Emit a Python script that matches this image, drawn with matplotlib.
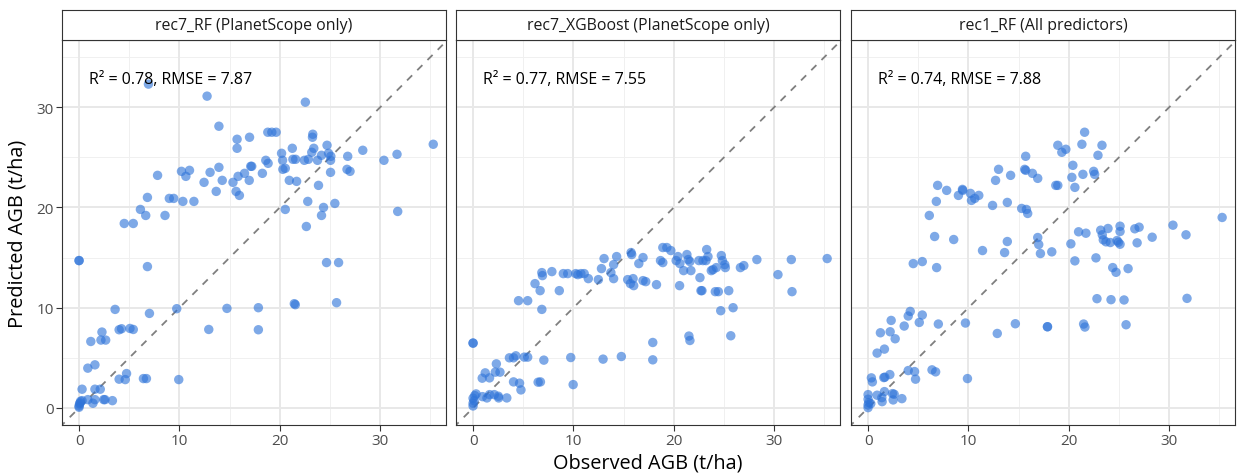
import matplotlib
matplotlib.use("Agg")
import matplotlib.pyplot as plt
import numpy as np

plt.rcParams['font.family'] = ['Open Sans', 'DejaVu Sans']

# panel titles and fit stats
titles = ["rec7_RF (PlanetScope only)", "rec7_XGBoost (PlanetScope only)", "rec1_RF (All predictors)"]
stats = ["R\u00b2 = 0.78, RMSE = 7.87", "R\u00b2 = 0.77, RMSE = 7.55", "R\u00b2 = 0.74, RMSE = 7.88"]

# rec7_RF: observed / predicted
obs_rf7 = [6.91, 12.75, 13.93, 15.74, 16.98, 15.74, 17.1, 7.82, 10.2, 11.0, 10.64, 13.05, 13.93, 12.45, 14.26,
           15.33, 15.84, 16.48, 16.95, 13.66, 15.64, 15.97, 6.81, 8.99, 9.43, 10.34, 11.44, 6.11, 6.64, 8.56,
           4.5, 5.4, 0.0, 0.0, 6.81, 3.59, 7.01, 9.73, 14.73, 12.92, 2.28, 1.17, 2.18, 2.65, 3.99, 4.23, 5.07,
           5.4, 0.87, 1.58, 3.99, 4.6, 4.73, 6.41, 6.71, 9.93, 0.3, 1.58, 2.11, 0.87, 1.38, 1.58, 2.45, 2.58,
           3.32, 0.0, 0.05, 0.15, 0.3, 0.0, 0.1,
           22.54, 18.8, 19.2, 19.63, 23.28, 23.25, 21.24, 23.38, 23.18, 24.7, 20.17, 20.27, 21.3, 21.57, 22.44,
           22.84, 23.75, 24.15, 24.85, 25.08, 25.05, 26.76, 28.26, 30.37, 31.67, 35.28, 18.6, 18.83, 17.2,
           18.26, 20.3, 20.54, 20.94, 21.67, 23.85, 25.05, 26.69, 26.99, 22.78, 20.54, 24.35, 24.15, 25.48,
           22.64, 31.74, 24.65, 25.85, 17.86, 17.86, 21.44, 21.54, 25.65]
pred_rf7 = [32.3, 31.1, 28.1, 26.8, 27.0, 25.9, 24.1, 23.2, 23.6, 23.7, 23.1, 23.5, 24.0, 22.5, 22.7,
            22.5, 23.1, 23.4, 22.7, 21.6, 21.6, 21.2, 21.0, 20.9, 20.9, 20.6, 20.6, 19.8, 19.2, 19.2,
            18.4, 18.4, 14.7, 14.7, 14.1, 9.83, 9.43, 9.9, 9.93, 7.83, 7.57, 6.63, 6.77, 6.77, 7.8, 7.9, 7.93,
            7.83, 3.97, 4.3, 2.87, 2.83, 3.43, 2.93, 2.93, 2.83, 1.87, 1.87, 1.87, 0.83, 0.47, 0.83, 0.83, 0.83,
            0.73, 0.07, 0.4, 0.67, 0.73, 0.2, 0.5,
            30.5, 27.5, 27.5, 27.5, 27.3, 27.0, 25.9, 25.9, 25.5, 26.2, 25.4, 24.7, 24.8, 24.8, 24.7,
            24.8, 24.7, 25.2, 25.4, 25.1, 24.7, 25.1, 25.7, 24.7, 25.3, 26.3, 24.7, 24.4, 24.1,
            23.4, 23.8, 23.9, 22.7, 22.6, 22.2, 23.5, 23.8, 23.6, 20.6, 19.8, 20.0, 19.2, 20.4,
            18.1, 19.6, 14.5, 14.5, 10.0, 7.8, 10.4, 10.3, 10.5]

# rec7_XGBoost: observed / predicted
obs_xgb7 = [6.85, 6.91, 7.85, 8.99, 9.43, 10.23, 10.44, 10.74, 11.07, 11.48, 12.48, 12.79, 13.05, 14.3, 14.0,
            13.73, 14.0, 15.74, 15.8, 16.51, 16.93, 15.4, 15.94, 15.67, 16.0, 6.17, 6.68, 8.59, 4.53, 5.44,
            6.85, 0.0, 0.0, 3.62, 4.03, 4.26, 5.1, 5.44, 7.05, 9.73, 12.95, 14.77, 2.32, 1.21, 2.21, 2.68,
            0.91, 1.64, 4.03, 4.63, 4.77, 6.48, 6.71, 9.97, 0.3, 0.94, 1.38, 1.64, 2.11, 2.52, 2.55, 3.36,
            0.0, 0.1, 0.0, 0.17, 0.0,
            18.9, 19.3, 19.7, 18.67, 18.9, 16.93, 17.2, 18.27, 20.4, 20.23, 20.6, 21.3, 21.43, 21.6, 20.97,
            21.7, 20.57, 22.5, 22.9, 23.27, 23.2, 23.4, 22.6, 23.73, 23.9, 24.23, 22.7, 22.8, 24.13, 24.43,
            25.47, 24.73, 24.83, 25.07, 25.13, 26.63, 26.97, 28.27, 30.37, 31.7, 31.77, 35.27, 24.67, 25.9,
            17.9, 17.9, 21.5, 21.6, 25.67]
pred_xgb7 = [13.5, 13.2, 13.6, 13.4, 13.4, 13.4, 13.3, 13.4, 13.4, 12.9, 12.8, 13.9, 14.9, 15.1, 14.3,
             13.5, 12.9, 15.5, 15.3, 14.4, 15.0, 12.8, 12.9, 12.4, 12.2, 12.4, 11.7, 11.7, 10.7, 10.7,
             9.83, 6.47, 6.47, 5.0, 5.0, 5.2, 5.07, 5.07, 4.77, 5.03, 4.87, 5.13, 4.4, 3.5, 3.57, 3.57,
             2.97, 3.0, 2.6, 2.47, 1.8, 2.57, 2.6, 2.33, 1.4, 1.13, 1.0, 1.33, 1.33, 1.17, 1.0, 1.0,
             0.97, 0.73, 0.47, 1.23, 0.2,
             16.0, 16.0, 15.7, 14.7, 14.5, 12.7, 12.6, 12.3, 15.1, 14.7, 14.4, 15.3, 14.8, 14.6, 13.7,
             13.7, 12.2, 14.7, 14.7, 15.8, 14.7, 15.1, 13.0, 13.7, 13.8, 14.0, 11.7, 11.7, 11.6, 11.6,
             11.7, 15.2, 14.7, 14.3, 14.0, 14.0, 14.2, 14.8, 13.3, 14.8, 11.6, 14.9, 9.7, 10.0,
             6.53, 4.8, 7.17, 6.73, 7.2]

# rec1_RF: observed / predicted
obs_rf1 = [15.7, 13.0, 15.6, 15.7, 16.37, 16.9, 14.2, 12.7, 6.93, 7.83, 9.0, 9.4, 9.43, 10.2, 10.3, 10.63,
           11.03, 6.8, 12.4, 13.87, 15.3, 15.77, 15.9, 6.1, 6.63, 8.53, 11.4, 13.87, 13.6, 16.9, 17.0, 17.17,
           4.5, 5.4, 6.83, 4.2, 4.0, 5.4, 5.1, 2.3, 3.6, 7.0, 9.7, 14.67, 12.87, 1.23, 2.2, 2.7, 0.9, 1.63,
           4.0, 4.63, 4.73, 6.37, 6.73, 9.9, 0.33, 0.43, 1.57, 1.67, 2.17, 0.9, 1.63, 2.43, 2.6, 3.37, 2.5,
           1.4, 1.37, 0.0, 0.0, 0.07, 0.27, 0.0, 0.0,
           21.57, 18.9, 19.3, 19.7, 21.3, 23.3, 22.9, 20.4, 20.3, 21.4, 22.47, 22.57, 18.7, 18.9, 20.6,
           35.27, 30.37, 31.67, 28.3, 26.57, 27.0, 26.8, 25.1, 25.1, 23.9, 23.17, 23.33, 23.43, 23.7, 24.13,
           24.8, 24.93, 25.1, 20.97, 21.7, 20.2, 18.3, 20.6, 22.7, 24.37, 24.7, 25.9, 22.8, 24.2, 25.5,
           31.77, 17.87, 17.87, 21.47, 21.6, 25.7]
pred_rf1 = [25.1, 23.8, 23.8, 23.7, 23.4, 22.9, 23.2, 22.7, 22.2, 21.7, 21.2, 21.8, 21.7, 21.4, 20.7, 20.9,
            21.2, 20.6, 20.2, 20.5, 19.9, 19.8, 19.4, 19.2, 17.1, 16.8, 15.7, 16.6, 15.5, 17.0, 16.3, 15.4,
            14.4, 14.6, 14.0, 9.63, 9.17, 9.27, 8.53, 8.73, 8.17, 8.37, 8.47, 8.4, 7.43, 7.5, 7.6, 6.9, 5.47, 5.87,
            3.73, 3.63, 2.87, 3.8, 3.6, 2.93, 3.0, 2.6, 3.03, 3.07, 3.33, 1.27, 1.63, 1.43, 1.37, 0.93, 0.8,
            0.63, 1.03, 1.33, 0.87, 0.53, 0.43, 0.03, 0.3,
            27.5, 26.2, 25.5, 25.8, 26.3, 26.2, 25.2, 24.2, 23.0, 23.3, 23.6, 23.3, 22.2, 22.2, 22.0,
            19.0, 18.23, 17.27, 17.03, 17.87, 18.03, 16.47, 18.13, 17.6, 17.9, 17.73, 17.27, 16.77, 16.57, 16.5,
            16.7, 16.53, 16.33, 17.57, 17.43, 16.37, 15.57, 14.67, 14.97, 14.0, 13.53, 13.9, 10.9, 10.8, 10.77,
            10.93, 8.1, 8.1, 8.37, 8.07, 8.3]

panels = [(obs_rf7, pred_rf7), (obs_xgb7, pred_xgb7), (obs_rf1, pred_rf1)]

W, H = 1239, 477
fig = plt.figure(figsize=(W / 100, H / 100), dpi=100)

lefts = [62, 456, 851]
pw = 384
top_strip, strip_bottom, panel_bottom = 11, 41, 426

xlim = (-1.7, 36.55)
ylim = (-1.7, 36.7)

for i, (obs, pred) in enumerate(panels):
    x0 = lefts[i]
    ax = fig.add_axes([x0 / W, (H - panel_bottom) / H, pw / W, (panel_bottom - strip_bottom) / H])
    ax.set_xlim(*xlim)
    ax.set_ylim(*ylim)

    # grid like theme_bw
    for v in [5, 15, 25, 35]:
        ax.axvline(v, color='#f0f0f0', lw=0.7, zorder=0)
        ax.axhline(v, color='#f0f0f0', lw=0.7, zorder=0)
    for v in [0, 10, 20, 30]:
        ax.axvline(v, color='#e8e8e8', lw=1.4, zorder=0)
        ax.axhline(v, color='#e8e8e8', lw=1.4, zorder=0)

    ax.plot([-5, 45], [-5, 45], ls=(0, (4, 4)), color='#7f7f7f', lw=1.3, zorder=1)
    ax.scatter(obs, pred, s=46, color='#2f74d9', alpha=0.62, edgecolors='none', zorder=2)

    ax.text(1.0, 32.8, stats[i], fontsize=11.5, va='center', ha='left', color='black')

    ax.set_xticks([0, 10, 20, 30])
    ax.set_yticks([0, 10, 20, 30])
    ax.tick_params(direction='out', length=4, width=0.8, color='#333333', labelsize=11,
                   labelcolor='#4d4d4d', pad=2)
    if i > 0:
        ax.set_yticklabels([])
        ax.tick_params(axis='y', length=0)
    for s in ax.spines.values():
        s.set_color('#333333')
        s.set_linewidth(0.8)

    # strip
    sax = fig.add_axes([x0 / W, (H - strip_bottom) / H, pw / W, (strip_bottom - top_strip) / H])
    sax.set_xticks([])
    sax.set_yticks([])
    sax.set_facecolor('white')
    for s in sax.spines.values():
        s.set_color('#333333')
        s.set_linewidth(0.8)
    sax.text(0.5, 0.5, titles[i], transform=sax.transAxes, ha='center', va='center',
             fontsize=11.4, color='#1a1a1a')

fig.text(648 / W, 1 - 464 / H, "Observed AGB (t/ha)", ha='center', va='center', fontsize=14.3)
fig.text(18 / W, 1 - 234 / H, "Predicted AGB (t/ha)", ha='center', va='center', fontsize=14.3, rotation=90)

fig.savefig("out.png", dpi=100)
